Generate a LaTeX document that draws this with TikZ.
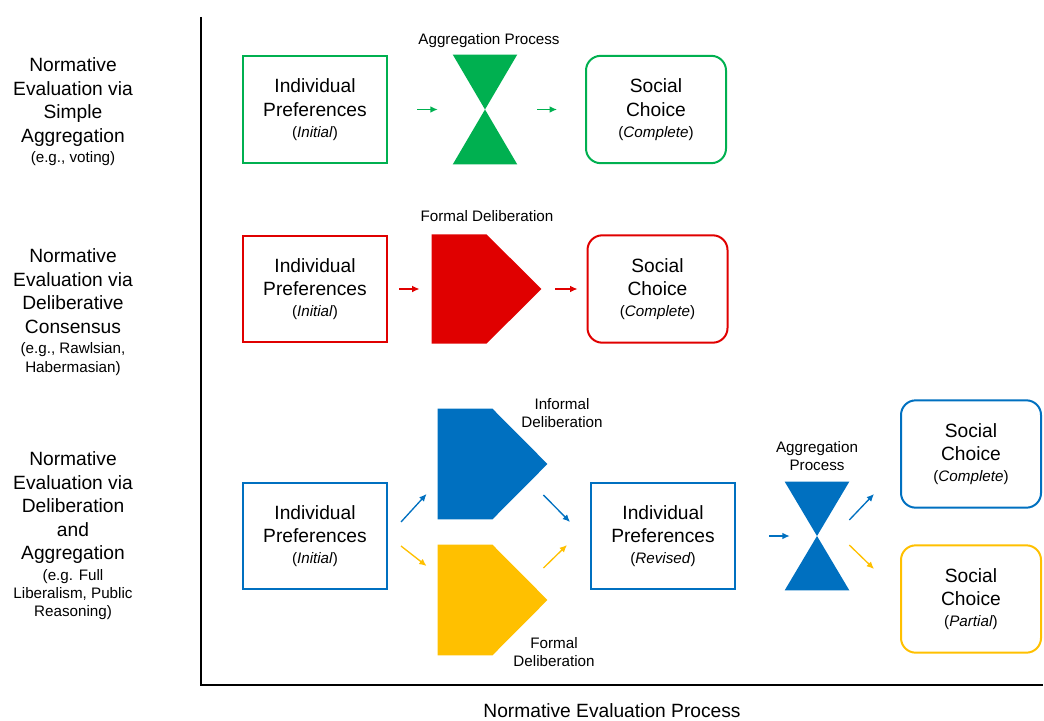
\documentclass[tikz,border=0pt]{standalone}
\usepackage{fontspec}
\setmainfont{Liberation Sans}
\usepackage{xcolor}
\usetikzlibrary{arrows.meta,positioning,calc}

\definecolor{aggGreen}{HTML}{00B050}
\definecolor{delRed}{HTML}{E00000}
\definecolor{delBlue}{HTML}{0070C0}
\definecolor{delYellow}{HTML}{FFC000}

\newcommand{\bigtxt}{\fontsize{14.4}{17.6}\selectfont}
\newcommand{\smtxt}{\fontsize{11.4}{13.6}\selectfont}

\begin{document}
\begin{tikzpicture}[
  x=0.75pt, y=-0.75pt,
  prefbox/.style={draw, line width=1.5pt, align=center, minimum width=108pt,
                  minimum height=80pt, inner sep=0pt, font=\bigtxt},
  choicebox/.style={draw, line width=1.5pt, rounded corners=11pt, align=center,
                    minimum width=105pt, minimum height=80.5pt, inner sep=0pt, font=\bigtxt},
  procshape/.style={minimum width=48pt, minimum height=82pt, inner sep=0pt},
  delshape/.style={minimum width=82pt, minimum height=81.5pt, inner sep=0pt},
  caption/.style={align=center, font=\smtxt},
  rowlabel/.style={align=center, font=\bigtxt},
  arr/.style={-{Latex[length=5.5pt,width=5pt]}, line width=1pt}
]
\useasboundingbox (0,0) rectangle (1044,720);

% axes
\draw[line width=1.5pt] (201,17) -- (201,685) -- (1043,685);
\node[font=\bigtxt] (xlabel) at (612,711) {Normative Evaluation Process};

% row labels
\node[rowlabel] (row1) at (73,112) {Normative\\Evaluation via\\Simple\\Aggregation\\[-2pt]{\smtxt (e.g., voting)}};
\node[rowlabel] (row2) at (73,312) {Normative\\Evaluation via\\Deliberative\\Consensus\\[-2pt]{\smtxt (e.g., Rawlsian,}\\[-4pt]{\smtxt Habermasian)}};
\node[rowlabel] (row3) at (73,536) {Normative\\Evaluation via\\Deliberation\\and\\Aggregation\\[-2pt]{\smtxt (e.g. Full}\\[-4pt]{\smtxt Liberalism, Public}\\[-4pt]{\smtxt Reasoning)}};

% row 1: simple aggregation
\node[prefbox, aggGreen, text=black] (pi1) at (315,109.5) {Individual\\Preferences\\[-2pt]{\smtxt(\textit{Initial})}};
\node[procshape] (ag1) at (485,109.5) {};
\fill[aggGreen] (ag1.north west) -- (ag1.north east) -- (ag1.south west) -- (ag1.south east) -- cycle;
\node[caption] (lab1) at (489,41) {Aggregation Process};
\node[choicebox, aggGreen, text=black] (sc1) at (656,109.5) {Social\\Choice\\[-2pt]{\smtxt(\textit{Complete})}};
\draw[arr, aggGreen] ([shift={(29,0)}]pi1.east) -- ([shift={(-15,0)}]ag1.west);
\draw[arr, aggGreen] ([shift={(20,0)}]ag1.east) -- ([shift={(-28,0)}]sc1.west);

% row 2: deliberative consensus
\node[prefbox, delRed, text=black] (pi2) at (315,289) {Individual\\Preferences\\[-2pt]{\smtxt(\textit{Initial})}};
\node[delshape] (fd) at (486.5,289) {};
\fill[delRed] (fd.north west) -- ($(fd.north west)!0.5!(fd.north east)$) -- (fd.east)
  -- ($(fd.south west)!0.5!(fd.south east)$) -- (fd.south west) -- cycle;
\node[caption] (lab2) at (487,216) {Formal Deliberation};
\node[choicebox, delRed, text=black] (sc2) at (657.5,289) {Social\\Choice\\[-2pt]{\smtxt(\textit{Complete})}};
\draw[arr, delRed] ([shift={(11,0)}]pi2.east) -- ([shift={(-12,0)}]fd.west);
\draw[arr, delRed] ([shift={(14,0)}]fd.east) -- ([shift={(-9,0)}]sc2.west);

% row 3: deliberation and aggregation
\node[prefbox, delBlue, text=black] (pi3) at (315,536) {Individual\\Preferences\\[-2pt]{\smtxt(\textit{Initial})}};
\node[delshape, minimum height=82.5pt] (inf) at (492.5,464) {};
\fill[delBlue] (inf.north west) -- ($(inf.north west)!0.5!(inf.north east)$) -- (inf.east)
  -- ($(inf.south west)!0.5!(inf.south east)$) -- (inf.south west) -- cycle;
\node[delshape, minimum height=82.5pt] (frm) at (492.5,600) {};
\fill[delYellow] (frm.north west) -- ($(frm.north west)!0.5!(frm.north east)$) -- (frm.east)
  -- ($(frm.south west)!0.5!(frm.south east)$) -- (frm.south west) -- cycle;
\node[caption] (lab3) at (562,413) {Informal\\Deliberation};
\node[caption] (lab4) at (554,652) {Formal\\Deliberation};
\node[prefbox, delBlue, text=black] (rev) at (663,536) {Individual\\Preferences\\[-2pt]{\smtxt(\textit{Revised})}};
\node[procshape, minimum height=81pt] (ag3) at (817,536) {};
\fill[delBlue] (ag3.north west) -- (ag3.north east) -- (ag3.south west) -- (ag3.south east) -- cycle;
\node[caption] (lab5) at (817,456) {Aggregation\\Process};
\node[choicebox, delBlue, text=black] (sc3) at (971,454) {Social\\Choice\\[-2pt]{\smtxt(\textit{Complete})}};
\node[choicebox, delYellow, text=black] (sc4) at (971,599) {Social\\Choice\\[-2pt]{\smtxt(\textit{Partial})}};

\draw[arr, delBlue] ([shift={(13,-14)}]pi3.east) -- ([shift={(-11,30)}]inf.west);
\draw[arr, delYellow] ([shift={(13,10)}]pi3.east) -- ([shift={(-11,-34)}]frm.west);
\draw[arr, delBlue] ([shift={(-4,31)}]inf.east) -- ([shift={(-20,-14)}]rev.west);
\draw[arr, delYellow] ([shift={(-4,-32)}]frm.east) -- ([shift={(-23,9)}]rev.west);
\draw[arr, delBlue] ([shift={(33,0)}]rev.east) -- ([shift={(5,0)}]ag3.west);
\draw[arr, delBlue] ([shift={(0,-16)}]ag3.east) -- ([shift={(-26,40)}]sc3.west);
\draw[arr, delYellow] ([shift={(0,9)}]ag3.east) -- ([shift={(-26,-30)}]sc4.west);
\end{tikzpicture}
\end{document}
